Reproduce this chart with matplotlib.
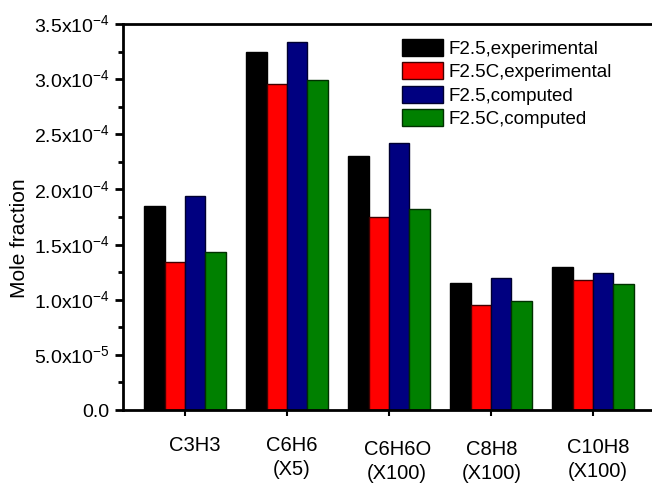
import matplotlib.pyplot as plt
from matplotlib.ticker import MultipleLocator, FuncFormatter
from matplotlib.transforms import blended_transform_factory

plt.rcParams['font.family'] = ['Liberation Sans', 'DejaVu Sans']

species = ["C3H3", "C6H6\n(X5)", "C6H6O\n(X100)", "C8H8\n(X100)", "C10H8\n(X100)"]
series_names = ["F2.5,experimental", "F2.5C,experimental", "F2.5,computed", "F2.5C,computed"]
f25_exp = [1.85e-4, 3.25e-4, 2.30e-4, 1.15e-4, 1.30e-4]
f25c_exp = [1.34e-4, 2.96e-4, 1.75e-4, 0.95e-4, 1.18e-4]
f25_comp = [1.94e-4, 3.34e-4, 2.42e-4, 1.20e-4, 1.24e-4]
f25c_comp = [1.43e-4, 2.99e-4, 1.82e-4, 0.99e-4, 1.14e-4]
colors = ["#000000", "#FF0000", "#000080", "#008000"]
edges = ["#000000", "#400000", "#000030", "#003000"]

# category labels sit a bit off the ticks in the original (data x, top in px)
label_x = [1.10, 2.05, 3.08, 4.01, 5.05]
label_top = [436, 436, 440, 440, 438]


def sci_fmt(v, pos):
    if v == 0:
        return "0.0"
    exp = int(f"{v:.1e}".split("e")[1])
    mant = v / 10 ** exp
    return f"{mant:.1f}x10$^{{\\mathregular{{{exp}}}}}$"


def main() -> None:
    fig = plt.figure(figsize=(6.52, 4.86), dpi=100)
    ax = fig.add_axes([123 / 652, 76 / 486, 1 - 123 / 652, (410 - 24) / 486])

    x = list(range(1, len(species) + 1))
    all_series = [f25_exp, f25c_exp, f25_comp, f25c_comp]
    w = 0.2
    for i, vals in enumerate(all_series):
        xs = [xi + (i - 1.5) * w for xi in x]
        ax.bar(xs, vals, width=w, color=colors[i], edgecolor=edges[i],
               linewidth=1.0, label=series_names[i])

    ax.set_xlim(0.392, 5.578)
    ax.set_ylim(0, 3.5e-4)
    ax.yaxis.set_major_locator(MultipleLocator(0.5e-4))
    ax.yaxis.set_minor_locator(MultipleLocator(0.25e-4))
    ax.yaxis.set_major_formatter(FuncFormatter(sci_fmt))
    ax.set_xticks(x)
    ax.set_xticklabels([])

    for side in ["left", "bottom", "top"]:
        ax.spines[side].set_linewidth(2)
    ax.spines["right"].set_visible(False)
    ax.tick_params(axis="y", which="major", direction="out", length=6, width=2,
                   labelsize=14, pad=3.5)
    ax.tick_params(axis="y", which="minor", direction="out", length=3.5, width=2)
    ax.tick_params(axis="x", which="major", direction="out", length=4, width=1.5)

    ax.set_ylabel("Mole fraction", fontsize=15)
    ax.yaxis.set_label_coords(-0.178, 0.446)

    trans = blended_transform_factory(ax.transData, fig.transFigure)
    for lx, top, name in zip(label_x, label_top, species):
        ax.text(lx, 1 - top / 486, name, transform=trans, fontsize=14.5,
                ha="center", va="top", linespacing=1.35, clip_on=False)

    ax.legend(loc="upper left", bbox_to_anchor=(402 / 652, 1 - 39 / 486),
              bbox_transform=fig.transFigure, frameon=False, fontsize=13.5,
              handlelength=2.2, handleheight=1.0, handletextpad=0.3,
              labelspacing=0.25, borderpad=0, borderaxespad=0)

    fig.savefig("out.png", dpi=100)


if __name__ == "__main__":
    main()
